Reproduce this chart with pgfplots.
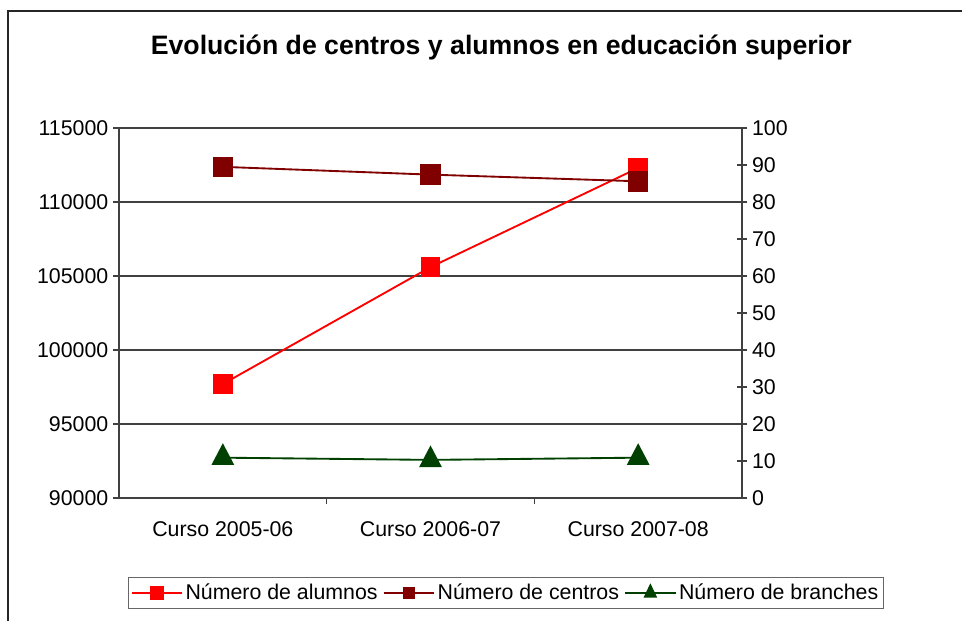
\documentclass[border=0pt]{standalone}
\usepackage{pgfplots}
\pgfplotsset{compat=1.18}
\usepackage{fontspec}
\setmainfont{Liberation Sans}
\definecolor{alum}{HTML}{FF0000}
\definecolor{cent}{HTML}{800000}
\definecolor{bran}{HTML}{004000}

\pgfplotstableread{
x alumnos
0 97700
1 105600
2 112300
}\alumnos
\pgfplotstableread{
x centros branches
0 89.5 10.9
1 87.4 10.3
2 85.6 10.9
}\centros

\begin{document}
\begin{tikzpicture}
\useasboundingbox (0,0) rectangle (721.5pt,-465pt);
\draw[line width=1.1pt, black!85] (6pt,-470pt) -- (6pt,-8.25pt) -- (730pt,-8.25pt);
\node[font=\bfseries\fontsize{20}{23}\selectfont] at (376pt,-35.5pt) {Evolución de centros y alumnos en educación superior};

\pgfplotsset{
  common/.style={
    at={(89.25pt,-373.5pt)}, anchor=south west, scale only axis,
    width=467.25pt, height=277.5pt,
    xmin=-0.5, xmax=2.5, clip=false,
    /pgf/number format/assume math mode=true,
    tick label style={font=\fontsize{16}{18}\selectfont},
    axis line style={black!75, line width=0.8pt, -},
    every outer x axis line/.append style={-},
    every outer y axis line/.append style={-},
    tick style={black!75, line width=0.8pt},
    scaled y ticks=false,
    yticklabel style={/pgf/number format/fixed, /pgf/number format/1000 sep={}},
  }
}

\begin{axis}[common,
  ymin=90000, ymax=115000, ytick={90000,95000,...,115000},
  axis x line*=bottom, axis y line*=left,
  xtick={0,1,2}, xticklabels={Curso 2005-06,Curso 2006-07,Curso 2007-08},
  major x tick style={draw=none}, minor xtick={0.5,1.5},
  tick align=outside, major tick length=4.5pt, minor tick length=4.5pt,
  xticklabel style={yshift=-10pt},
  ymajorgrids, grid style={black!75, line width=0.8pt}]
  \addplot[alum, line width=1.4pt, mark=square*, mark size=6.75pt, mark options={solid}] table[x=x, y=alumnos] {\alumnos};
\end{axis}

\begin{axis}[common,
  ymin=0, ymax=100, ytick={0,10,...,100},
  axis x line=none, axis y line*=right,
  tick align=center, major tick length=8pt,
  legend columns=3,
  legend style={at={(0.621,-0.213)}, anchor=north, draw=black!60, line width=0.8pt,
    font=\fontsize{16}{18}\selectfont, inner xsep=2pt, inner ysep=3pt,
    /tikz/every even column/.append style={column sep=2pt}},
  legend image code/.code={\draw[mark repeat=2, mark phase=2] plot coordinates {(0pt,0pt) (19pt,0pt) (38pt,0pt)};}]
  \addlegendimage{alum, line width=1pt, mark=square*, mark size=5pt}
  \addlegendentry{Número de alumnos}
  \addlegendimage{cent, line width=1pt, mark=square*, mark size=4pt}
  \addlegendentry{Número de centros}
  \addlegendimage{bran, line width=1pt, mark=triangle*, mark size=5pt, mark options={yscale=1.2}}
  \addlegendentry{Número de branches}
  \addplot[cent, line width=1.4pt, mark=square*, mark size=7pt, forget plot] table[x=x, y=centros] {\centros};
  \addplot[bran, line width=1.4pt, mark=triangle*, mark size=8.5pt, mark options={yscale=1.1}, forget plot] table[x=x, y=branches] {\centros};
\end{axis}
\end{tikzpicture}
\end{document}
